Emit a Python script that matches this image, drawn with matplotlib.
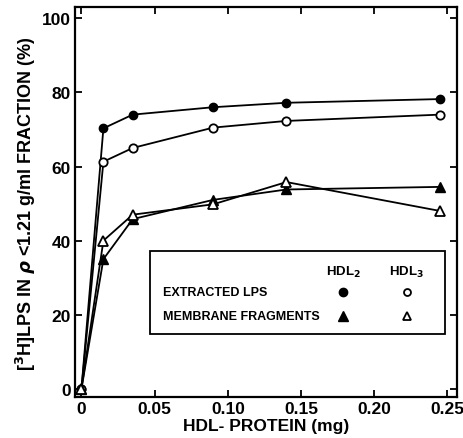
import matplotlib
matplotlib.use('Agg')
import matplotlib.pyplot as plt
from matplotlib.patches import Rectangle

# HDL-protein (mg)
x = [0, 0.015, 0.035, 0.09, 0.14, 0.245]

# [3H]LPS in rho<1.21 fraction (%)
lps_hdl2 = [0, 70.3, 74, 76, 77.2, 78.2]
lps_hdl3 = [0, 61.3, 65, 70.5, 72.3, 74]
mem_hdl2 = [0, 35, 45.8, 51, 53.8, 54.5]
mem_hdl3 = [0, 40, 47, 49.8, 55.8, 48]

xticks = [0, 0.05, 0.10, 0.15, 0.20, 0.25]
xticklabels = ['0', '0.05', '0.10', '0.15', '0.20', '0.25']
yticks = [0, 20, 40, 60, 80, 100]

plt.rcParams['font.family'] = ['Liberation Sans', 'DejaVu Sans']
plt.rcParams['font.weight'] = 'bold'
plt.rcParams['mathtext.fontset'] = 'dejavusans'

fig = plt.figure(figsize=(4.63, 4.39), dpi=100)
ax = fig.add_axes([0.162, 0.0934, 0.825, 0.888])

lw = 1.3
ax.plot(x, lps_hdl2, color='black', lw=lw, marker='o', ms=6, mfc='black', zorder=3)
ax.plot(x, lps_hdl3, color='black', lw=lw, marker='o', ms=6, mfc='white', mew=1.3, zorder=3)
ax.plot(x, mem_hdl2, color='black', lw=lw, marker='^', ms=7, mfc='black', zorder=3)
ax.plot(x, mem_hdl3, color='black', lw=lw, marker='^', ms=7, mfc='white', mew=1.3, zorder=3)

ax.set_xlim(-0.0044, 0.2565)
ax.set_ylim(-2.2, 103)
ax.set_xticks(xticks)
ax.set_xticklabels(xticklabels)
ax.set_yticks(yticks)
ax.tick_params(direction='in', length=5, width=1.3, labelsize=12.5, top=True, right=True, pad=3)
for s in ax.spines.values():
    s.set_linewidth(1.6)

ax.set_xlabel('HDL- PROTEIN (mg)', fontsize=12.5, fontweight='bold', labelpad=1)
ax.set_ylabel(r'[$^3$H]LPS IN $\rho$ <1.21 g/ml FRACTION (%)', fontsize=13,
              fontweight='bold', labelpad=3)

# legend box
ax.add_patch(Rectangle((0.196, 0.162), 0.773, 0.212, transform=ax.transAxes,
                       fill=False, lw=1.3, color='black', zorder=4))
ax.text(0.702, 0.323, r'HDL$_2$', transform=ax.transAxes, ha='center', va='center', fontsize=9.5)
ax.text(0.869, 0.323, r'HDL$_3$', transform=ax.transAxes, ha='center', va='center', fontsize=9.5)
ax.text(0.230, 0.269, 'EXTRACTED LPS', transform=ax.transAxes, ha='left', va='center', fontsize=9)
ax.text(0.230, 0.208, 'MEMBRANE FRAGMENTS', transform=ax.transAxes, ha='left', va='center', fontsize=9)
ax.plot([0.702], [0.269], transform=ax.transAxes, marker='o', ms=6, color='black')
ax.plot([0.869], [0.269], transform=ax.transAxes, marker='o', ms=5, mfc='white', mec='black', mew=1.3)
ax.plot([0.702], [0.208], transform=ax.transAxes, marker='^', ms=7, color='black')
ax.plot([0.869], [0.208], transform=ax.transAxes, marker='^', ms=6, mfc='white', mec='black', mew=1.3)

fig.savefig('out.png', dpi=100)
